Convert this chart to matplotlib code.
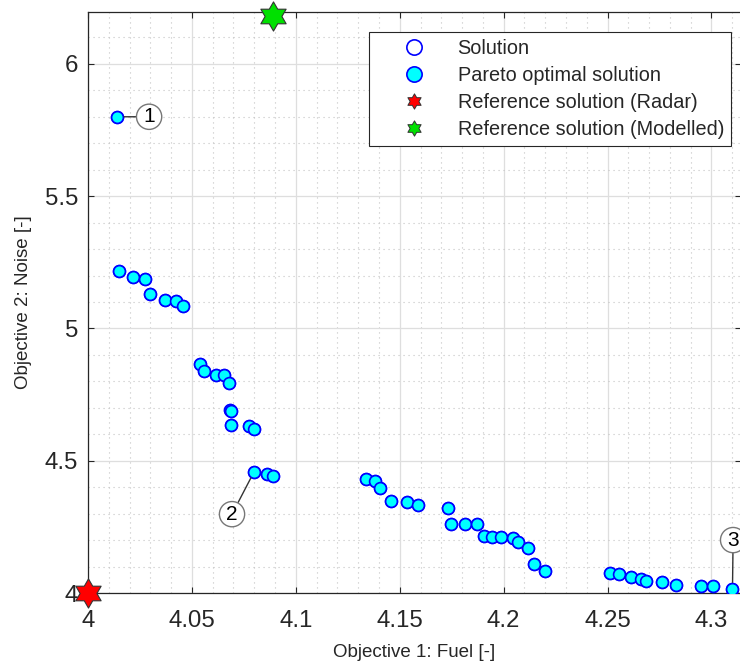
import numpy as np
import matplotlib
matplotlib.use("Agg")
import matplotlib.pyplot as plt
from matplotlib.path import Path
from matplotlib.lines import Line2D
from matplotlib.ticker import MultipleLocator

plt.rcParams['font.family'] = ['Liberation Sans', 'DejaVu Sans']

# Objective values of the solutions (all of them are Pareto optimal)
fuel = [4.014,
        4.0149, 4.0218, 4.0274, 4.0298, 4.0371, 4.0422, 4.0459,
        4.0539, 4.0560, 4.0616, 4.0656, 4.0679, 4.0683, 4.0688, 4.0688,
        4.0776, 4.0799, 4.0799, 4.0863, 4.0892,
        4.1338, 4.1380, 4.1404, 4.1457, 4.1534, 4.1590, 4.1731, 4.1749,
        4.1814, 4.1870, 4.1907, 4.1943, 4.1987, 4.2047, 4.2068, 4.2116,
        4.2148, 4.2198,
        4.2512, 4.2557, 4.2612, 4.2660, 4.2685, 4.2764, 4.2828, 4.2950,
        4.3009, 4.3101]
noise = [5.800,
         5.217, 5.194, 5.187, 5.131, 5.109, 5.103, 5.083,
         4.864, 4.838, 4.825, 4.823, 4.794, 4.691, 4.687, 4.634,
         4.631, 4.621, 4.458, 4.449, 4.442,
         4.430, 4.423, 4.397, 4.347, 4.343, 4.331, 4.323, 4.262,
         4.260, 4.259, 4.215, 4.210, 4.210, 4.209, 4.192, 4.171,
         4.108, 4.082,
         4.077, 4.070, 4.062, 4.054, 4.046, 4.043, 4.030, 4.028,
         4.025, 4.014]

# Reference solutions (fuel, noise)
ref_radar = (4.000, 4.000)
ref_modelled = (4.0892, 6.181)

# Labelled solutions: index into the arrays and label position
label_ids = ["1", "2", "3"]
label_idx = [0, 18, 48]
label_pos = [(4.0294, 5.800), (4.0693, 4.298), (4.3104, 4.200)]

# Six-pointed star (hexagram) marker
ang = np.deg2rad(90 + 30 * np.arange(12))
rad = np.where(np.arange(12) % 2 == 0, 1.0, 1 / np.sqrt(3))
verts = np.column_stack([rad * np.cos(ang), rad * np.sin(ang)])
verts = np.vstack([verts, verts[:1]])
codes = [Path.MOVETO] + [Path.LINETO] * 11 + [Path.CLOSEPOLY]
hexagram = Path(verts, codes)

W, H = 740, 664
fig = plt.figure(figsize=(W / 100, H / 100), dpi=100)
ax = fig.add_axes([88 / W, 1 - 593 / H, 653 / W, 581 / H])

ax.set_xlim(4.0, 4.3142)
ax.set_ylim(4.0, 6.196)

ax.xaxis.set_minor_locator(MultipleLocator(0.01))
ax.yaxis.set_minor_locator(MultipleLocator(0.1))
ax.set_xticks(np.arange(4.0, 4.31, 0.05))
ax.set_xticklabels(["4", "4.05", "4.1", "4.15", "4.2", "4.25", "4.3"])
ax.set_yticks([4.0, 4.5, 5.0, 5.5, 6.0])
ax.set_yticklabels(["4", "4.5", "5", "5.5", "6"])

ax.grid(which='major', color='#dedede', linewidth=0.9, linestyle='-')
ax.grid(which='minor', color='#c4c4c4', linewidth=0.8, linestyle=(0, (1, 3.5)))
ax.set_axisbelow(True)

axis_col = '#262626'
ax.tick_params(which='major', direction='in', length=4, width=0.8,
               top=True, right=True, labelsize=17.3, colors=axis_col,
               pad=7)
ax.tick_params(axis='x', which='major', pad=12)
ax.tick_params(which='minor', length=0)
for sp in ax.spines.values():
    sp.set_color(axis_col)
    sp.set_linewidth(0.9)

ax.set_xlabel("Objective 1: Fuel [-]", fontsize=13.5, color=axis_col, labelpad=9)
ax.set_ylabel("Objective 2: Noise [-]", fontsize=13.5, color=axis_col, labelpad=9)

# All solutions (open markers), Pareto optimal solutions on top
ax.plot(fuel, noise, 'o', ls='none', ms=8.5, mfc='white', mec='blue', mew=1.2,
        zorder=3)
ax.plot(fuel, noise, 'o', ls='none', ms=8.5, mfc='cyan', mec='blue', mew=1.2,
        zorder=4)

ax.plot(*ref_radar, marker=hexagram, ms=21, mfc='red', mec='#333333', mew=0.8,
        ls='none', clip_on=False, zorder=6)
ax.plot(*ref_modelled, marker=hexagram, ms=21, mfc='#00e000', mec='#333333',
        mew=0.8, ls='none', clip_on=False, zorder=6)

for lab, i, pos in zip(label_ids, label_idx, label_pos):
    ax.annotate(lab, xy=(fuel[i], noise[i]), xytext=pos,
                fontsize=15, ha='center', va='center', color='black',
                bbox=dict(boxstyle='circle,pad=0.15', fc='white', ec='#777777',
                          lw=1.0),
                arrowprops=dict(arrowstyle='-', color='#333333', lw=1.0,
                                shrinkA=0, shrinkB=5),
                zorder=7, annotation_clip=False)

handles = [
    Line2D([], [], marker='o', ls='none', ms=11, mfc='white', mec='blue', mew=1.2),
    Line2D([], [], marker='o', ls='none', ms=11, mfc='cyan', mec='blue', mew=1.2),
    Line2D([], [], marker=hexagram, ls='none', ms=11, mfc='red', mec='#333333', mew=0.7),
    Line2D([], [], marker=hexagram, ls='none', ms=11, mfc='#00e000', mec='#333333', mew=0.7),
]
labels = ["Solution", "Pareto optimal solution", "Reference solution (Radar)",
          "Reference solution (Modelled)"]
leg = ax.legend(handles, labels, loc='upper right',
                bbox_to_anchor=(0.9847, 0.9656), fontsize=14.3,
                frameon=True, fancybox=False, framealpha=1,
                edgecolor='#262626', handlelength=3.8, handletextpad=0.3,
                borderpad=0.35, labelspacing=0.4, borderaxespad=0)
leg.get_frame().set_linewidth(0.8)
for t in leg.get_texts():
    t.set_color(axis_col)

fig.savefig("out.png", dpi=100, facecolor='white')
